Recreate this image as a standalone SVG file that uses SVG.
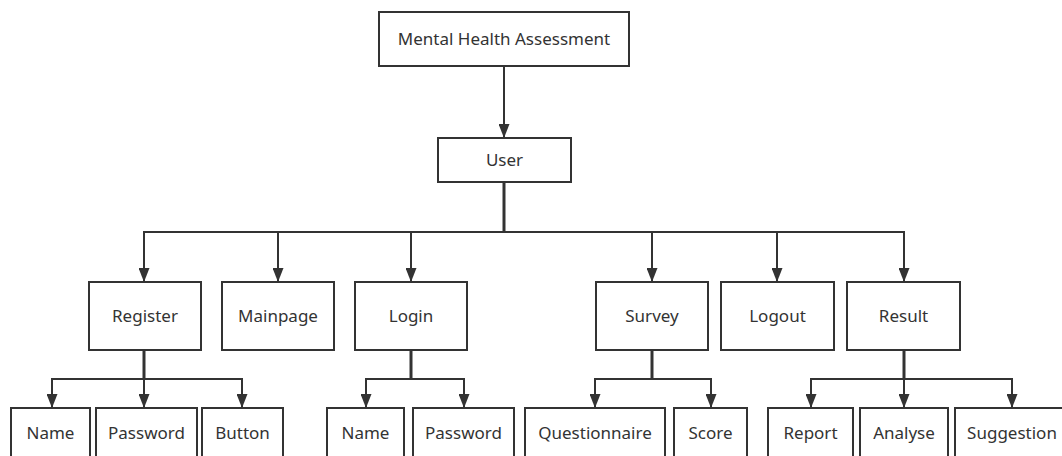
<svg xmlns="http://www.w3.org/2000/svg" width="1062" height="456" viewBox="0 0 1062 456">
<style>
.box{fill:#fff;stroke:#333;stroke-width:2}
.t{font-family:"Noto Sans","Open Sans","Liberation Sans",sans-serif;font-size:17px;fill:#333;text-anchor:middle}
.c{fill:none;stroke:#333;stroke-width:2}
.s{fill:none;stroke:#333;stroke-width:3}
</style>
<defs>
<marker id="ah" markerUnits="userSpaceOnUse" markerWidth="14" markerHeight="11" refX="14" refY="5.5" orient="auto">
<path d="M0,0 L14,5.5 L0,11 z" fill="#333"/>
</marker>
</defs>
<rect width="1062" height="456" fill="#fff"/>
<g id="connectors">
<path class="c" d="M504,66 V138" marker-end="url(#ah)"/>
<path class="s" d="M504,182 V232"/>
<path class="c" d="M504,232 H144 V282" marker-end="url(#ah)"/>
<path class="c" d="M504,232 H278 V282" marker-end="url(#ah)"/>
<path class="c" d="M504,232 H411 V282" marker-end="url(#ah)"/>
<path class="c" d="M504,232 H652 V282" marker-end="url(#ah)"/>
<path class="c" d="M504,232 H777 V282" marker-end="url(#ah)"/>
<path class="c" d="M504,232 H904 V282" marker-end="url(#ah)"/>
<path class="s" d="M144,350 V379"/>
<path class="c" d="M144,379 H52 V408" marker-end="url(#ah)"/>
<path class="c" d="M144,379 V408" marker-end="url(#ah)"/>
<path class="c" d="M144,379 H242 V408" marker-end="url(#ah)"/>
<path class="s" d="M411,350 V379"/>
<path class="c" d="M411,379 H366 V408" marker-end="url(#ah)"/>
<path class="c" d="M411,379 H464 V408" marker-end="url(#ah)"/>
<path class="s" d="M652,350 V379"/>
<path class="c" d="M652,379 H595 V408" marker-end="url(#ah)"/>
<path class="c" d="M652,379 H711 V408" marker-end="url(#ah)"/>
<path class="s" d="M904,350 V379"/>
<path class="c" d="M904,379 H811 V408" marker-end="url(#ah)"/>
<path class="c" d="M904,379 V408" marker-end="url(#ah)"/>
<path class="c" d="M904,379 H1012 V408" marker-end="url(#ah)"/>
</g>
<g id="n-root"><rect class="box" x="379" y="12" width="250" height="54"/><text class="t" x="504" y="45">Mental Health Assessment</text></g>
<g id="n-user"><rect class="box" x="438" y="138" width="133" height="44"/><text class="t" x="504.5" y="166">User</text></g>
<g id="n-register"><rect class="box" x="89" y="282" width="112" height="68"/><text class="t" x="145" y="322">Register</text></g>
<g id="n-mainpage"><rect class="box" x="222" y="282" width="112" height="68"/><text class="t" x="278" y="322">Mainpage</text></g>
<g id="n-login"><rect class="box" x="355" y="282" width="112" height="68"/><text class="t" x="411" y="322">Login</text></g>
<g id="n-survey"><rect class="box" x="596" y="282" width="112" height="68"/><text class="t" x="652" y="322">Survey</text></g>
<g id="n-logout"><rect class="box" x="721" y="282" width="113" height="68"/><text class="t" x="777.5" y="322">Logout</text></g>
<g id="n-result"><rect class="box" x="847" y="282" width="113" height="68"/><text class="t" x="903.5" y="322">Result</text></g>
<g id="n-name1"><rect class="box" x="11" y="408" width="79" height="60"/><text class="t" x="50.5" y="439">Name</text></g>
<g id="n-password1"><rect class="box" x="96" y="408" width="101" height="60"/><text class="t" x="146.5" y="439">Password</text></g>
<g id="n-button"><rect class="box" x="202" y="408" width="81" height="60"/><text class="t" x="242.5" y="439">Button</text></g>
<g id="n-name2"><rect class="box" x="327" y="408" width="77" height="60"/><text class="t" x="365.5" y="439">Name</text></g>
<g id="n-password2"><rect class="box" x="413" y="408" width="101" height="60"/><text class="t" x="463.5" y="439">Password</text></g>
<g id="n-questionnaire"><rect class="box" x="525" y="408" width="140" height="60"/><text class="t" x="595" y="439">Questionnaire</text></g>
<g id="n-score"><rect class="box" x="674" y="408" width="73" height="60"/><text class="t" x="710.5" y="439">Score</text></g>
<g id="n-report"><rect class="box" x="768" y="408" width="85" height="60"/><text class="t" x="810.5" y="439">Report</text></g>
<g id="n-analyse"><rect class="box" x="860" y="408" width="88" height="60"/><text class="t" x="904" y="439">Analyse</text></g>
<g id="n-suggestion"><rect class="box" x="955" y="408" width="120" height="60"/><text class="t" x="1012" y="439">Suggestion</text></g>
</svg>
